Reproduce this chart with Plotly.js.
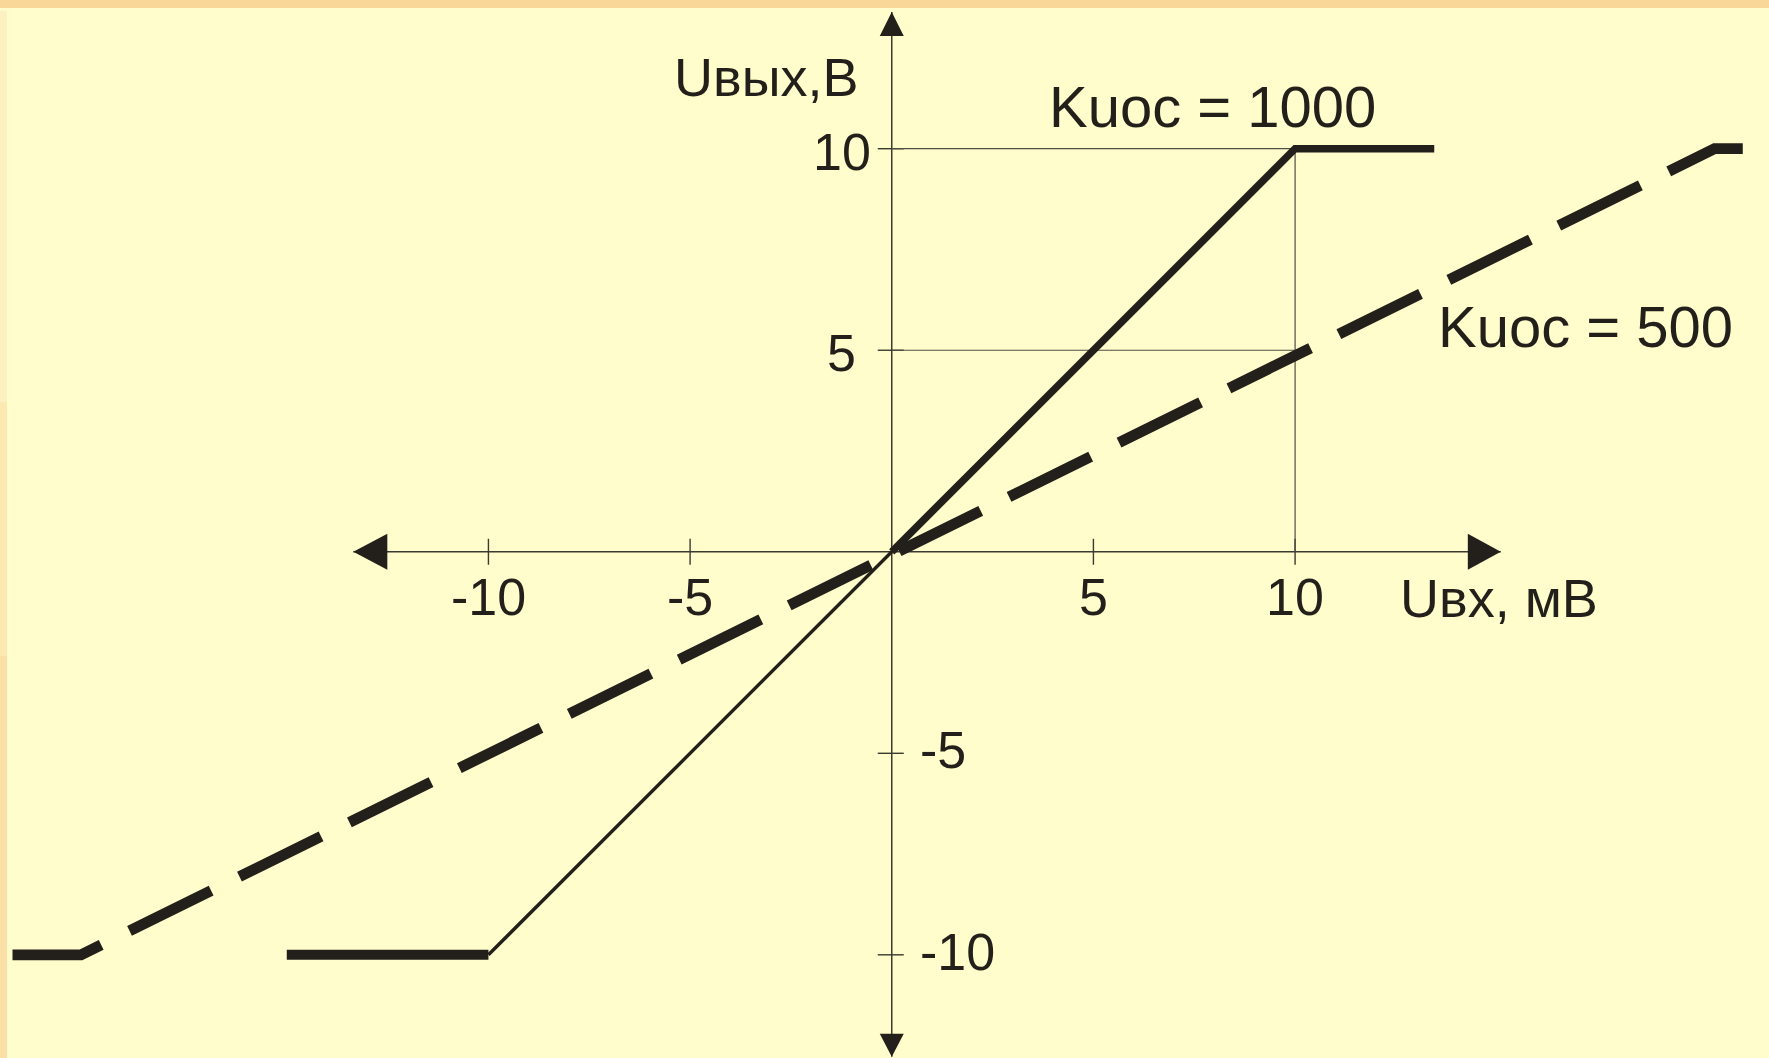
<!DOCTYPE html>
<html>
<head>
<meta charset="utf-8">
<script src="https://cdn.plot.ly/plotly-3.0.1.min.js"></script>
<style>
  html, body { margin: 0; padding: 0; background: #FFFDCB; }
  #chart { width: 1769px; height: 1058px; }
</style>
</head>
<body>
<div id="chart"></div>
<script>
// Op-amp transfer characteristic: output voltage (V) versus input voltage (mV)
// for two closed-loop gains, with the output clipping at ±10 V.

const gain1000X = [-15.0, -10, 0, 10, 13.45];
const gain1000Y = [-10, -10, 0, 10, 10];

const gain500X = [-21.8, -20.1, 20.4, 21.1];
const gain500Y = [-10, -10, 10, 10];

const gain1000Label = 'Kuoc = 1000';
const gain500Label = 'Kuoc = 500';

// drop lines from the vertical axis to the clipping point and to the 5 V level
const dropTopX = [0, 10, 10];
const dropTopY = [10, 10, 0];
const dropMidX = [0, 10];
const dropMidY = [5, 5];

const xTickVals = [-10, -5, 5, 10];
const xTickText = ['-10', '-5', '5', '10'];
const yTickVals = [-10, -5, 5, 10];
const yTickText = ['-10', '-5', '5', '10'];

const xTitle = 'Uвх, мВ';
const yTitle = 'Uвых,В';

// ---- view and styling ----
const xRange = [-22.11, 21.75];
const yRange = [-12.56, 13.69];
const xAxisEnds = [-13.35, 15.1];   // arrow tips of the horizontal axis
const yAxisEnds = [-12.53, 13.39];  // arrow tips of the vertical axis

const ink = '#231f1a';
const axisInk = '#3a3a30';
const guideInk = '#4f4f44';
const FONT = 'Liberation Sans, Arial, Helvetica, sans-serif';

// [from index, to index, line width] for the solid characteristic
const solidPieces = [[0, 1, 10], [1, 2, 3.4], [2, 4, 7.4]];

const traces = [];
const common = { mode: 'lines', hoverinfo: 'skip', showlegend: false };

traces.push(Object.assign({ x: dropTopX, y: dropTopY, line: { color: guideInk, width: 1.2 } }, common));
traces.push(Object.assign({ x: dropMidX, y: dropMidY, line: { color: guideInk, width: 1.2 } }, common));

traces.push(Object.assign({
  x: gain500X, y: gain500Y,
  line: { color: ink, width: 10.8, dash: '91px,31.6px' }
}, common));

solidPieces.forEach(([a, b, w]) => {
  traces.push(Object.assign({
    x: gain1000X.slice(a, b + 1),
    y: gain1000Y.slice(a, b + 1),
    line: { color: ink, width: w }
  }, common));
});

// ---- decorations: frame strips, axes with arrows, ticks ----
const shapes = [];
shapes.push({ type: 'rect', xref: 'paper', yref: 'paper', x0: 0, x1: 1, y0: 1 - 8 / 1058, y1: 1,
  fillcolor: '#F9D798', line: { width: 0 }, layer: 'below' });
const leftStrip = [['#FDF1C2', 0.62, 0.99], ['#FCE8B1', 0.38, 0.62], ['#FAE0A6', 0, 0.38]];
leftStrip.forEach(([c, a, b]) => shapes.push({ type: 'rect', xref: 'paper', yref: 'paper',
  x0: 0, x1: 7 / 1769, y0: a, y1: b, fillcolor: c, line: { width: 0 }, layer: 'below' }));

shapes.push({ type: 'line', xref: 'x', yref: 'y', x0: xAxisEnds[0], x1: xAxisEnds[1], y0: 0, y1: 0,
  line: { color: axisInk, width: 1.5 }, layer: 'below' });
shapes.push({ type: 'line', xref: 'x', yref: 'y', x0: 0, x1: 0, y0: yAxisEnds[0], y1: yAxisEnds[1],
  line: { color: axisInk, width: 1.5 }, layer: 'below' });

function arrow(xa, ya, path) {
  return { type: 'path', xref: 'x', yref: 'y', xsizemode: 'pixel', ysizemode: 'pixel',
    xanchor: xa, yanchor: ya, path: path, fillcolor: ink, line: { width: 0 } };
}
shapes.push(arrow(xAxisEnds[1], 0, 'M0,0 L-33,18 L-33,-18 Z'));
shapes.push(arrow(xAxisEnds[0], 0, 'M0,0 L34,18 L34,-18 Z'));
shapes.push(arrow(0, yAxisEnds[1], 'M0,0 L-12,-24 L12,-24 Z'));
shapes.push(arrow(0, yAxisEnds[0], 'M0,0 L-12,23 L12,23 Z'));

xTickVals.forEach(v => shapes.push({ type: 'line', xref: 'x', yref: 'y', ysizemode: 'pixel', yanchor: 0,
  x0: v, x1: v, y0: -13, y1: 13, line: { color: axisInk, width: 1.4 }, layer: 'below' }));
yTickVals.forEach(v => shapes.push({ type: 'line', xref: 'x', yref: 'y', xsizemode: 'pixel', xanchor: 0,
  y0: v, y1: v, x0: -14, x1: 12, line: { color: axisInk, width: 1.4 }, layer: 'below' }));

// ---- text ----
const annotations = [];
const txt = (size) => ({ family: FONT, size: size, color: ink });

xTickVals.forEach((v, i) => annotations.push({
  xref: 'x', yref: 'y', x: v, y: 0, yshift: -45, text: xTickText[i], showarrow: false,
  xanchor: 'center', yanchor: 'middle', font: txt(52)
}));
yTickVals.forEach((v, i) => {
  const left = v > 0;
  annotations.push({
    xref: 'x', yref: 'y', x: 0, y: v, xshift: left ? -50 : 26, yshift: left ? -3 : 3,
    text: yTickText[i], showarrow: false, xanchor: left ? 'center' : 'left', yanchor: 'middle',
    font: txt(52)
  });
});

annotations.push({ xref: 'x', yref: 'paper', x: 0, xshift: -31, y: 1 - 77 / 1058,
  text: yTitle, showarrow: false, xanchor: 'right', yanchor: 'middle', font: txt(54) });
annotations.push({ xref: 'x', yref: 'y', x: 12.55, y: 0, yshift: -46,
  text: xTitle, showarrow: false, xanchor: 'left', yanchor: 'middle', font: txt(54) });
annotations.push({ xref: 'x', yref: 'y', x: 3.85, y: 11.06,
  text: gain1000Label, showarrow: false, xanchor: 'left', yanchor: 'middle', font: txt(58) });
annotations.push({ xref: 'x', yref: 'y', x: 13.5, y: 5.6,
  text: gain500Label, showarrow: false, xanchor: 'left', yanchor: 'middle', font: txt(58) });

const hidden = { showgrid: false, zeroline: false, showticklabels: false, showline: false, ticks: '', fixedrange: true };

const layout = {
  width: 1769, height: 1058,
  margin: { l: 0, r: 0, t: 0, b: 0, pad: 0 },
  paper_bgcolor: '#FFFDCB', plot_bgcolor: '#FFFDCB',
  xaxis: Object.assign({ range: xRange }, hidden),
  yaxis: Object.assign({ range: yRange }, hidden),
  shapes: shapes,
  annotations: annotations,
  showlegend: false
};

Plotly.newPlot('chart', traces, layout, { displayModeBar: false, staticPlot: true });
</script>
</body>
</html>
